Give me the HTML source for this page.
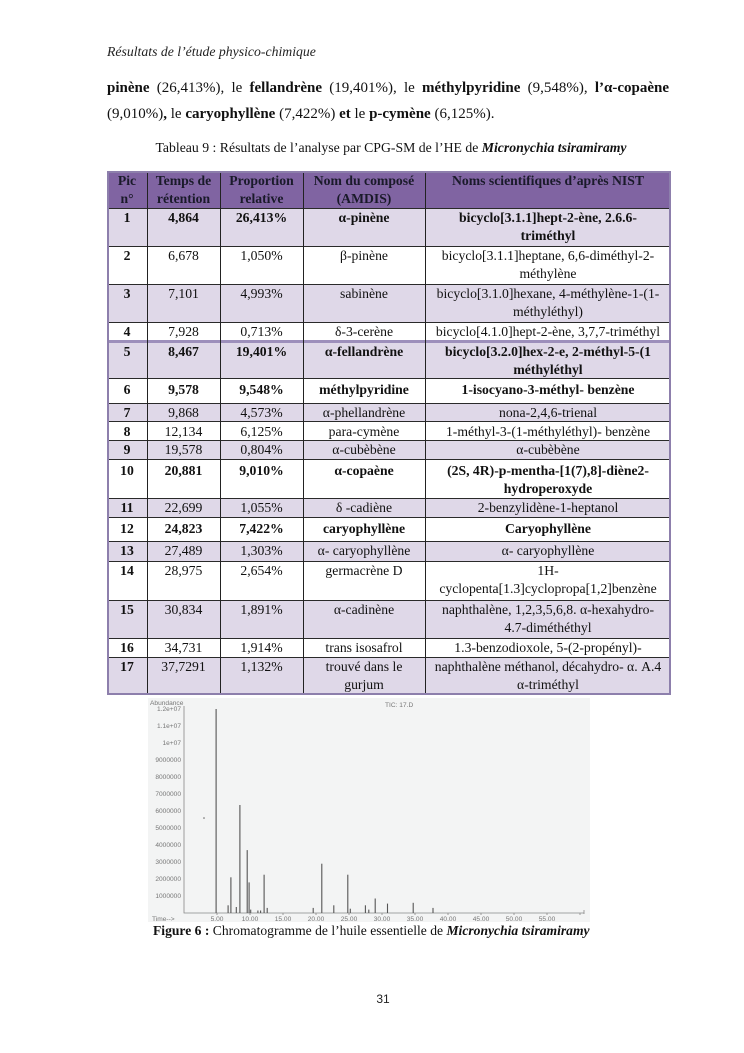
<!DOCTYPE html>
<html><head><meta charset="utf-8">
<style>
html,body{margin:0;padding:0;background:#fff;}
body{width:744px;height:1053px;position:relative;overflow:hidden;font-family:"Liberation Serif",serif;color:#111;}
.abs{position:absolute;}
.hdr{left:107px;top:43px;font-size:13.75px;font-style:italic;color:#222;line-height:18px;white-space:nowrap;}
.p1{left:107px;top:75px;width:562px;font-size:15px;line-height:26px;text-align:justify;text-align-last:justify;white-space:nowrap;}
.p2{left:107px;top:101px;font-size:15px;line-height:26px;white-space:nowrap;}
.cap{left:0;width:782px;top:139px;text-align:center;font-size:13.75px;line-height:18px;white-space:nowrap;}
.tbl{left:107px;top:171px;width:564px;height:524px;}
.r{position:absolute;left:0;width:564px;border-top:1px solid #2a2a2a;box-sizing:border-box;font-size:13.7px;}
.r.h{border-top:none;background:#8064a2;color:#1a1a2a;font-weight:bold;}
.r.l{background:#dfd8e8;}
.r.b{font-weight:bold;}
.r.t{border-top:3px solid #9d8fbb;}
.c{position:absolute;top:0;bottom:0;text-align:center;white-space:nowrap;line-height:18px;padding-top:0px;overflow:visible;}
.c1{left:0;width:40px;font-weight:bold;}
.c2{left:40px;width:73px;}
.c3{left:113px;width:83px;}
.c4{left:196px;width:122px;}
.c5{left:318px;width:246px;}
.v{position:absolute;top:0;height:524px;width:1px;background:#222;}
.frame{position:absolute;left:0;top:0;width:564px;height:524px;border:2px solid #8d7fac;box-sizing:border-box;}
.fig{left:148px;top:698px;}
.fcap{left:153px;top:922px;font-size:13.6px;line-height:18px;white-space:nowrap;}
.pn{left:0;width:766px;text-align:center;top:991px;font-family:"Liberation Sans",sans-serif;font-size:12px;line-height:16px;color:#222;}
</style></head>
<body>
<div class="abs hdr">Résultats de l’étude physico-chimique</div>
<div class="abs p1"><b>pinène</b> (26,413%), le <b>fellandrène</b> (19,401%), le <b>méthylpyridine</b> (9,548%), <b>l’α-copaène</b></div>
<div class="abs p2">(9,010%)<b>,</b> le <b>caryophyllène</b> (7,422%) <b>et</b> le <b>p-cymène</b> (6,125%).</div>
<div class="abs cap">Tableau 9 : Résultats de l’analyse par CPG-SM de l’HE de <b><i>Micronychia tsiramiramy</i></b></div>

<div class="abs tbl">
  <div class="r h" style="top:0;height:37px;">
    <div class="c c1" style="padding-top:1px">Pic<br>n°</div><div class="c c2" style="padding-top:1px">Temps de<br>rétention</div><div class="c c3" style="padding-top:1px">Proportion<br>relative</div><div class="c c4" style="padding-top:1px">Nom du composé<br>(AMDIS)</div><div class="c c5" style="padding-top:1px">Noms scientifiques d’après NIST</div>
  </div>
  <div class="r l b" style="top:37px;height:38px;">
    <div class="c c1">1</div><div class="c c2">4,864</div><div class="c c3">26,413%</div><div class="c c4">α-pinène</div><div class="c c5">bicyclo[3.1.1]hept-2-ène, 2.6.6-<br>triméthyl</div>
  </div>
  <div class="r" style="top:75px;height:38px;">
    <div class="c c1">2</div><div class="c c2">6,678</div><div class="c c3">1,050%</div><div class="c c4">β-pinène</div><div class="c c5">bicyclo[3.1.1]heptane, 6,6-diméthyl-2-<br>méthylène</div>
  </div>
  <div class="r l" style="top:113px;height:38px;">
    <div class="c c1">3</div><div class="c c2">7,101</div><div class="c c3">4,993%</div><div class="c c4">sabinène</div><div class="c c5">bicyclo[3.1.0]hexane, 4-méthylène-1-(1-<br>méthyléthyl)</div>
  </div>
  <div class="r" style="top:151px;height:19px;">
    <div class="c c1">4</div><div class="c c2">7,928</div><div class="c c3">0,713%</div><div class="c c4">δ-3-cerène</div><div class="c c5">bicyclo[4.1.0]hept-2-ène, 3,7,7-triméthyl</div>
  </div>
  <div class="r l b t" style="top:169px;height:38px;">
    <div class="c c1">5</div><div class="c c2">8,467</div><div class="c c3">19,401%</div><div class="c c4">α-fellandrène</div><div class="c c5">bicyclo[3.2.0]hex-2-e, 2-méthyl-5-(1<br>méthyléthyl</div>
  </div>
  <div class="r b" style="top:207px;height:25px;">
    <div class="c c1" style="padding-top:2px">6</div><div class="c c2" style="padding-top:2px">9,578</div><div class="c c3" style="padding-top:2px">9,548%</div><div class="c c4" style="padding-top:2px">méthylpyridine</div><div class="c c5" style="padding-top:2px">1-isocyano-3-méthyl- benzène</div>
  </div>
  <div class="r l" style="top:232px;height:18px;">
    <div class="c c1" style="line-height:17px">7</div><div class="c c2" style="line-height:17px">9,868</div><div class="c c3" style="line-height:17px">4,573%</div><div class="c c4" style="line-height:17px">α-phellandrène</div><div class="c c5" style="line-height:17px">nona-2,4,6-trienal</div>
  </div>
  <div class="r" style="top:250px;height:19px;">
    <div class="c c1" style="padding-top:1px">8</div><div class="c c2" style="padding-top:1px">12,134</div><div class="c c3" style="padding-top:1px">6,125%</div><div class="c c4" style="padding-top:1px">para-cymène</div><div class="c c5" style="padding-top:1px">1-méthyl-3-(1-méthyléthyl)- benzène</div>
  </div>
  <div class="r l" style="top:269px;height:19px;">
    <div class="c c1">9</div><div class="c c2">19,578</div><div class="c c3">0,804%</div><div class="c c4">α-cubèbène</div><div class="c c5">α-cubèbène</div>
  </div>
  <div class="r b" style="top:288px;height:39px;">
    <div class="c c1" style="padding-top:2px">10</div><div class="c c2" style="padding-top:2px">20,881</div><div class="c c3" style="padding-top:2px">9,010%</div><div class="c c4" style="padding-top:2px">α-copaène</div><div class="c c5" style="padding-top:2px">(2S, 4R)-p-mentha-[1(7),8]-diène2-<br>hydroperoxyde</div>
  </div>
  <div class="r l" style="top:327px;height:19px;">
    <div class="c c1">11</div><div class="c c2">22,699</div><div class="c c3">1,055%</div><div class="c c4">δ -cadiène</div><div class="c c5">2-benzylidène-1-heptanol</div>
  </div>
  <div class="r b" style="top:346px;height:24px;">
    <div class="c c1" style="padding-top:2px">12</div><div class="c c2" style="padding-top:2px">24,823</div><div class="c c3" style="padding-top:2px">7,422%</div><div class="c c4" style="padding-top:2px">caryophyllène</div><div class="c c5" style="padding-top:2px">Caryophyllène</div>
  </div>
  <div class="r l" style="top:370px;height:20px;">
    <div class="c c1">13</div><div class="c c2">27,489</div><div class="c c3">1,303%</div><div class="c c4">α- caryophyllène</div><div class="c c5">α- caryophyllène</div>
  </div>
  <div class="r" style="top:390px;height:39px;">
    <div class="c c1">14</div><div class="c c2">28,975</div><div class="c c3">2,654%</div><div class="c c4">germacrène D</div><div class="c c5">1H-<br>cyclopenta[1.3]cyclopropa[1,2]benzène</div>
  </div>
  <div class="r l" style="top:429px;height:38px;">
    <div class="c c1">15</div><div class="c c2">30,834</div><div class="c c3">1,891%</div><div class="c c4">α-cadinène</div><div class="c c5">naphthalène, 1,2,3,5,6,8. α-hexahydro-<br>4.7-diméthéthyl</div>
  </div>
  <div class="r" style="top:467px;height:19px;">
    <div class="c c1">16</div><div class="c c2">34,731</div><div class="c c3">1,914%</div><div class="c c4">trans isosafrol</div><div class="c c5">1.3-benzodioxole, 5-(2-propényl)-</div>
  </div>
  <div class="r l" style="top:486px;height:38px;">
    <div class="c c1">17</div><div class="c c2">37,7291</div><div class="c c3">1,132%</div><div class="c c4">trouvé dans le<br>gurjum</div><div class="c c5">naphthalène méthanol, décahydro- α. A.4<br>α-triméthyl</div>
  </div>
  <div class="v" style="left:40px"></div>
  <div class="v" style="left:113px"></div>
  <div class="v" style="left:196px"></div>
  <div class="v" style="left:318px"></div>
  <div class="frame"></div>
</div>

<svg class="abs fig" width="442" height="224" viewBox="148 698 442 224" xmlns="http://www.w3.org/2000/svg">
  <rect x="148" y="698" width="442" height="224" fill="#f3f4f4"/>
  <g font-family="Liberation Sans, sans-serif" font-size="6.6" fill="#777">
    <text x="150" y="705">Abundance</text>
    <text x="181" y="711" text-anchor="end">1.2e+07</text>
    <text x="181" y="728" text-anchor="end">1.1e+07</text>
    <text x="181" y="745" text-anchor="end">1e+07</text>
    <text x="181" y="762" text-anchor="end">9000000</text>
    <text x="181" y="779" text-anchor="end">8000000</text>
    <text x="181" y="796" text-anchor="end">7000000</text>
    <text x="181" y="813" text-anchor="end">6000000</text>
    <text x="181" y="830" text-anchor="end">5000000</text>
    <text x="181" y="847" text-anchor="end">4000000</text>
    <text x="181" y="864" text-anchor="end">3000000</text>
    <text x="181" y="881" text-anchor="end">2000000</text>
    <text x="181" y="898" text-anchor="end">1000000</text>
    <text x="152" y="921">Time--&gt;</text>
    <text x="217" y="921" text-anchor="middle">5.00</text>
    <text x="250" y="921" text-anchor="middle">10.00</text>
    <text x="283" y="921" text-anchor="middle">15.00</text>
    <text x="316" y="921" text-anchor="middle">20.00</text>
    <text x="349" y="921" text-anchor="middle">25.00</text>
    <text x="382" y="921" text-anchor="middle">30.00</text>
    <text x="415" y="921" text-anchor="middle">35.00</text>
    <text x="448" y="921" text-anchor="middle">40.00</text>
    <text x="481" y="921" text-anchor="middle">45.00</text>
    <text x="514" y="921" text-anchor="middle">50.00</text>
    <text x="547" y="921" text-anchor="middle">55.00</text>
    <text x="385" y="707">TIC: 17.D</text>
  </g>
  <g stroke="#888" stroke-width="0.8" fill="none">
    <path d="M184 706 V913 H584"/>
    <path d="M217 913 v2 M250 913 v2 M283 913 v2 M316 913 v2 M349 913 v2 M382 913 v2 M415 913 v2 M448 913 v2 M481 913 v2 M514 913 v2 M547 913 v2 M580 913 v2 M584 910 v4"/>
  </g>
  <g stroke="#555" stroke-width="1.1" fill="none">
    <path d="M216.1 913 V709"/>
    <path d="M228.1 913 V905.3"/>
    <path d="M230.9 913 V877.3"/>
    <path d="M236.3 913 V907"/>
    <path d="M239.9 913 V805"/>
    <path d="M247.2 913 V850.1"/>
    <path d="M249.1 913 V882.4"/>
    <path d="M250.7 913 V909.6"/>
    <path d="M257.9 913 V910.5"/>
    <path d="M260.6 913 V910.5"/>
    <path d="M264.1 913 V874.7"/>
    <path d="M267.2 913 V907.9"/>
    <path d="M313.2 913 V907.9"/>
    <path d="M321.8 913 V863.7"/>
    <path d="M333.8 913 V905.3"/>
    <path d="M347.8 913 V874.7"/>
    <path d="M350.3 913 V908.7"/>
    <path d="M365.4 913 V905.3"/>
    <path d="M368.8 913 V909.6"/>
    <path d="M375.2 913 V898.5"/>
    <path d="M387.5 913 V903.6"/>
    <path d="M413.2 913 V902.8"/>
    <path d="M433 913 V907.9"/>
  </g>
  <circle cx="204" cy="818" r="0.8" fill="#666"/>
</svg>

<div class="abs fcap"><b>Figure 6 :</b> Chromatogramme de l’huile essentielle de <b><i>Micronychia tsiramiramy</i></b></div>
<div class="abs pn">31</div>
</body></html>
